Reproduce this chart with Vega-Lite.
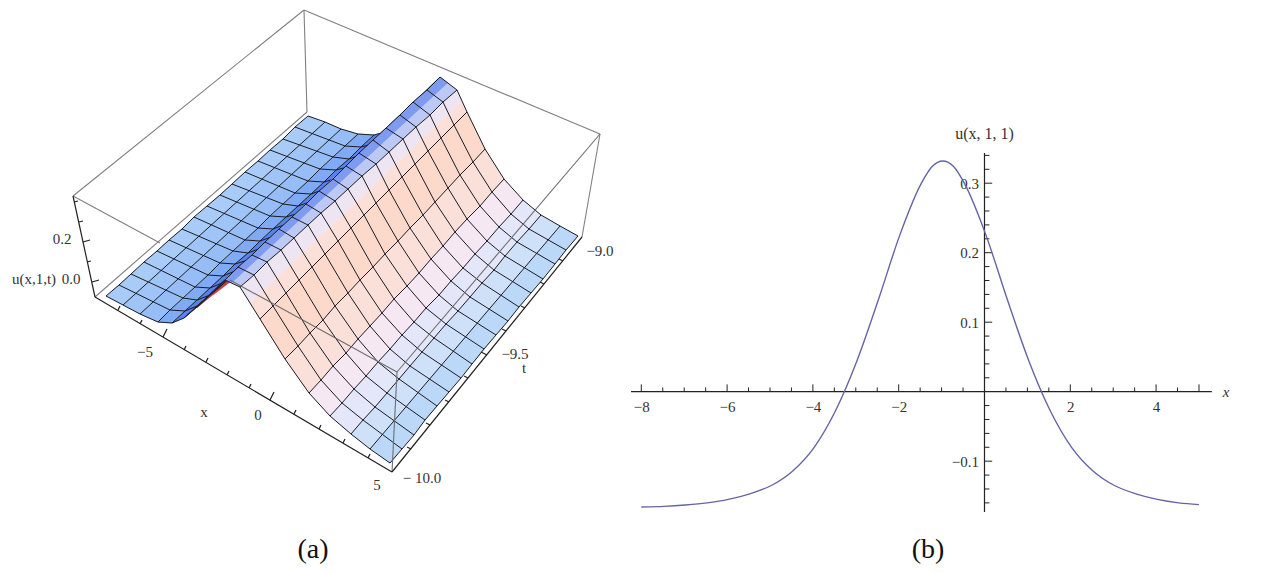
{"$schema":"https://vega.github.io/schema/vega-lite/v6.json","padding":0,"background":"white","config":{"view":{"stroke":null},"text":{"font":"Liberation Serif"}},"spacing":10,
"datasets":{
"strips":[
{"s":0,"o":1,"px":106,"py":296},{"s":0,"o":2,"px":123,"py":305},{"s":0,"o":3,"px":325,"py":122},{"s":0,"o":4,"px":308,"py":116},
{"s":1,"o":1,"px":123,"py":305},{"s":1,"o":2,"px":140,"py":314},{"s":1,"o":3,"px":341,"py":129},{"s":1,"o":4,"px":325,"py":122},
{"s":2,"o":1,"px":140,"py":314},{"s":2,"o":2,"px":158,"py":322},{"s":2,"o":3,"px":358,"py":134},{"s":2,"o":4,"px":341,"py":129},
{"s":3,"o":1,"px":158,"py":322},{"s":3,"o":2,"px":172,"py":323},{"s":3,"o":3,"px":374,"py":135},{"s":3,"o":4,"px":358,"py":134},
{"s":6,"o":1,"px":197,"py":307},{"s":6,"o":2,"px":225,"py":280},{"s":6,"o":3,"px":440,"py":77},{"s":6,"o":4,"px":404,"py":119},
{"s":4,"o":1,"px":172,"py":323},{"s":4,"o":2,"px":184,"py":318},{"s":4,"o":3,"px":389,"py":131},{"s":4,"o":4,"px":374,"py":135},
{"s":5,"o":1,"px":184,"py":318},{"s":5,"o":2,"px":197,"py":307},{"s":5,"o":3,"px":404,"py":119},{"s":5,"o":4,"px":389,"py":131},
{"s":7,"o":1,"px":197,"py":308},{"s":7,"o":2,"px":200,"py":303},{"s":7,"o":3,"px":227,"py":280},{"s":7,"o":4,"px":230,"py":282},{"s":7,"o":5,"px":213,"py":295}
],
"stripsR":[
{"s":8,"o":1,"px":225,"py":280},{"s":8,"o":2,"px":232,"py":283},{"s":8,"o":3,"px":448,"py":83},{"s":8,"o":4,"px":440,"py":77},
{"s":9,"o":1,"px":232,"py":283},{"s":9,"o":2,"px":240,"py":287},{"s":9,"o":3,"px":457,"py":90},{"s":9,"o":4,"px":448,"py":83},
{"s":10,"o":1,"px":240,"py":287},{"s":10,"o":2,"px":250,"py":303},{"s":10,"o":3,"px":462,"py":101},{"s":10,"o":4,"px":457,"py":90},
{"s":11,"o":1,"px":250,"py":303},{"s":11,"o":2,"px":260,"py":319},{"s":11,"o":3,"px":467,"py":112},{"s":11,"o":4,"px":462,"py":101},
{"s":12,"o":1,"px":260,"py":319},{"s":12,"o":2,"px":285,"py":359},{"s":12,"o":3,"px":485,"py":149},{"s":12,"o":4,"px":467,"py":112},
{"s":13,"o":1,"px":285,"py":359},{"s":13,"o":2,"px":309,"py":393},{"s":13,"o":3,"px":504,"py":179},{"s":13,"o":4,"px":485,"py":149},
{"s":14,"o":1,"px":309,"py":393},{"s":14,"o":2,"px":330,"py":416},{"s":14,"o":3,"px":523,"py":200},{"s":14,"o":4,"px":504,"py":179},
{"s":15,"o":1,"px":330,"py":416},{"s":15,"o":2,"px":351,"py":434},{"s":15,"o":3,"px":541,"py":215},{"s":15,"o":4,"px":523,"py":200},
{"s":16,"o":1,"px":351,"py":434},{"s":16,"o":2,"px":370,"py":449},{"s":16,"o":3,"px":560,"py":226},{"s":16,"o":4,"px":541,"py":215},
{"s":17,"o":1,"px":370,"py":449},{"s":17,"o":2,"px":390,"py":463},{"s":17,"o":3,"px":578,"py":236},{"s":17,"o":4,"px":560,"py":226}
],
"meshL":[
{"i":0,"j":0,"px":106,"py":296},{"i":0,"j":1,"px":119,"py":285},{"i":0,"j":2,"px":131,"py":274},{"i":0,"j":3,"px":144,"py":262},{"i":0,"j":4,"px":157,"py":251},{"i":0,"j":5,"px":169,"py":240},{"i":0,"j":6,"px":182,"py":229},{"i":0,"j":7,"px":194,"py":217},{"i":0,"j":8,"px":207,"py":206},{"i":0,"j":9,"px":220,"py":195},{"i":0,"j":10,"px":232,"py":184},{"i":0,"j":11,"px":245,"py":172},{"i":0,"j":12,"px":258,"py":161},{"i":0,"j":13,"px":270,"py":150},{"i":0,"j":14,"px":283,"py":139},{"i":0,"j":15,"px":295,"py":127},{"i":0,"j":16,"px":308,"py":116},
{"i":1,"j":0,"px":123,"py":305},{"i":1,"j":16,"px":325,"py":122},
{"i":2,"j":0,"px":140,"py":314},{"i":2,"j":16,"px":341,"py":129},
{"i":3,"j":0,"px":158,"py":322},{"i":3,"j":1,"px":170,"py":310},{"i":3,"j":2,"px":183,"py":298},{"i":3,"j":3,"px":195,"py":287},{"i":3,"j":4,"px":208,"py":275},{"i":3,"j":5,"px":220,"py":263},{"i":3,"j":6,"px":233,"py":251},{"i":3,"j":7,"px":245,"py":240},{"i":3,"j":8,"px":258,"py":228},{"i":3,"j":9,"px":270,"py":216},{"i":3,"j":10,"px":283,"py":204},{"i":3,"j":11,"px":295,"py":193},{"i":3,"j":12,"px":308,"py":181},{"i":3,"j":13,"px":320,"py":169},{"i":3,"j":14,"px":333,"py":157},{"i":3,"j":15,"px":345,"py":146},{"i":3,"j":16,"px":358,"py":134},
{"i":4,"j":0,"px":172,"py":323},{"i":4,"j":1,"px":185,"py":311},{"i":4,"j":2,"px":197,"py":300},{"i":4,"j":3,"px":210,"py":288},{"i":4,"j":4,"px":223,"py":276},{"i":4,"j":5,"px":235,"py":264},{"i":4,"j":6,"px":248,"py":253},{"i":4,"j":7,"px":260,"py":241},{"i":4,"j":8,"px":273,"py":229},{"i":4,"j":9,"px":286,"py":217},{"i":4,"j":10,"px":298,"py":206},{"i":4,"j":11,"px":311,"py":194},{"i":4,"j":12,"px":324,"py":182},{"i":4,"j":13,"px":336,"py":170},{"i":4,"j":14,"px":349,"py":159},{"i":4,"j":15,"px":361,"py":147},{"i":4,"j":16,"px":374,"py":135},
{"i":5,"j":0,"px":184,"py":318},{"i":5,"j":1,"px":197,"py":306},{"i":5,"j":2,"px":210,"py":295},{"i":5,"j":3,"px":222,"py":283},{"i":5,"j":4,"px":235,"py":271},{"i":5,"j":5,"px":248,"py":260},{"i":5,"j":6,"px":261,"py":248},{"i":5,"j":7,"px":274,"py":236},{"i":5,"j":8,"px":286,"py":224},{"i":5,"j":9,"px":299,"py":213},{"i":5,"j":10,"px":312,"py":201},{"i":5,"j":11,"px":325,"py":189},{"i":5,"j":12,"px":338,"py":178},{"i":5,"j":13,"px":351,"py":166},{"i":5,"j":14,"px":363,"py":154},{"i":5,"j":15,"px":376,"py":143},{"i":5,"j":16,"px":389,"py":131},
{"i":6,"j":0,"px":197,"py":307},{"i":6,"j":1,"px":210,"py":295},{"i":6,"j":2,"px":223,"py":284},{"i":6,"j":3,"px":236,"py":272},{"i":6,"j":4,"px":249,"py":260},{"i":6,"j":5,"px":262,"py":248},{"i":6,"j":6,"px":275,"py":237},{"i":6,"j":7,"px":288,"py":225},{"i":6,"j":8,"px":301,"py":213},{"i":6,"j":9,"px":313,"py":201},{"i":6,"j":10,"px":326,"py":190},{"i":6,"j":11,"px":339,"py":178},{"i":6,"j":12,"px":352,"py":166},{"i":6,"j":13,"px":365,"py":154},{"i":6,"j":14,"px":378,"py":143},{"i":6,"j":15,"px":391,"py":131},{"i":6,"j":16,"px":404,"py":119}
],
"meshR":[
{"i":8,"j":0,"px":225,"py":280},{"i":8,"j":1,"px":238,"py":267},{"i":8,"j":2,"px":252,"py":255},{"i":8,"j":3,"px":265,"py":242},{"i":8,"j":4,"px":279,"py":229},{"i":8,"j":5,"px":292,"py":217},{"i":8,"j":6,"px":306,"py":204},{"i":8,"j":7,"px":319,"py":191},{"i":8,"j":8,"px":333,"py":179},{"i":8,"j":9,"px":346,"py":166},{"i":8,"j":10,"px":359,"py":153},{"i":8,"j":11,"px":373,"py":140},{"i":8,"j":12,"px":386,"py":128},{"i":8,"j":13,"px":400,"py":115},{"i":8,"j":14,"px":413,"py":102},{"i":8,"j":15,"px":427,"py":90},{"i":8,"j":16,"px":440,"py":77},
{"i":9,"j":0,"px":240,"py":287},{"i":9,"j":1,"px":254,"py":275},{"i":9,"j":2,"px":267,"py":262},{"i":9,"j":3,"px":281,"py":250},{"i":9,"j":4,"px":294,"py":238},{"i":9,"j":5,"px":308,"py":225},{"i":9,"j":6,"px":321,"py":213},{"i":9,"j":7,"px":335,"py":201},{"i":9,"j":8,"px":348,"py":189},{"i":9,"j":9,"px":362,"py":176},{"i":9,"j":10,"px":376,"py":164},{"i":9,"j":11,"px":389,"py":152},{"i":9,"j":12,"px":403,"py":139},{"i":9,"j":13,"px":416,"py":127},{"i":9,"j":14,"px":430,"py":115},{"i":9,"j":15,"px":443,"py":102},{"i":9,"j":16,"px":457,"py":90},
{"i":10,"j":0,"px":260,"py":319},{"i":10,"j":1,"px":273,"py":306},{"i":10,"j":2,"px":286,"py":293},{"i":10,"j":3,"px":299,"py":280},{"i":10,"j":4,"px":312,"py":267},{"i":10,"j":5,"px":325,"py":254},{"i":10,"j":6,"px":338,"py":241},{"i":10,"j":7,"px":351,"py":228},{"i":10,"j":8,"px":364,"py":215},{"i":10,"j":9,"px":376,"py":203},{"i":10,"j":10,"px":389,"py":190},{"i":10,"j":11,"px":402,"py":177},{"i":10,"j":12,"px":415,"py":164},{"i":10,"j":13,"px":428,"py":151},{"i":10,"j":14,"px":441,"py":138},{"i":10,"j":15,"px":454,"py":125},{"i":10,"j":16,"px":467,"py":112},
{"i":11,"j":0,"px":285,"py":359},{"i":11,"j":1,"px":298,"py":346},{"i":11,"j":2,"px":310,"py":333},{"i":11,"j":3,"px":323,"py":320},{"i":11,"j":4,"px":335,"py":306},{"i":11,"j":5,"px":348,"py":293},{"i":11,"j":6,"px":360,"py":280},{"i":11,"j":7,"px":373,"py":267},{"i":11,"j":8,"px":385,"py":254},{"i":11,"j":9,"px":398,"py":241},{"i":11,"j":10,"px":410,"py":228},{"i":11,"j":11,"px":423,"py":215},{"i":11,"j":12,"px":435,"py":202},{"i":11,"j":13,"px":448,"py":188},{"i":11,"j":14,"px":460,"py":175},{"i":11,"j":15,"px":473,"py":162},{"i":11,"j":16,"px":485,"py":149},
{"i":12,"j":0,"px":309,"py":393},{"i":12,"j":1,"px":321,"py":380},{"i":12,"j":2,"px":333,"py":366},{"i":12,"j":3,"px":346,"py":353},{"i":12,"j":4,"px":358,"py":339},{"i":12,"j":5,"px":370,"py":326},{"i":12,"j":6,"px":382,"py":313},{"i":12,"j":7,"px":394,"py":299},{"i":12,"j":8,"px":407,"py":286},{"i":12,"j":9,"px":419,"py":273},{"i":12,"j":10,"px":431,"py":259},{"i":12,"j":11,"px":443,"py":246},{"i":12,"j":12,"px":455,"py":232},{"i":12,"j":13,"px":467,"py":219},{"i":12,"j":14,"px":480,"py":206},{"i":12,"j":15,"px":492,"py":192},{"i":12,"j":16,"px":504,"py":179},
{"i":13,"j":0,"px":330,"py":416},{"i":13,"j":1,"px":342,"py":403},{"i":13,"j":2,"px":354,"py":389},{"i":13,"j":3,"px":366,"py":376},{"i":13,"j":4,"px":378,"py":362},{"i":13,"j":5,"px":390,"py":349},{"i":13,"j":6,"px":402,"py":335},{"i":13,"j":7,"px":414,"py":322},{"i":13,"j":8,"px":426,"py":308},{"i":13,"j":9,"px":439,"py":295},{"i":13,"j":10,"px":451,"py":281},{"i":13,"j":11,"px":463,"py":268},{"i":13,"j":12,"px":475,"py":254},{"i":13,"j":13,"px":487,"py":241},{"i":13,"j":14,"px":499,"py":227},{"i":13,"j":15,"px":511,"py":214},{"i":13,"j":16,"px":523,"py":200},
{"i":14,"j":0,"px":351,"py":434},{"i":14,"j":1,"px":363,"py":420},{"i":14,"j":2,"px":375,"py":407},{"i":14,"j":3,"px":387,"py":393},{"i":14,"j":4,"px":399,"py":379},{"i":14,"j":5,"px":410,"py":366},{"i":14,"j":6,"px":422,"py":352},{"i":14,"j":7,"px":434,"py":338},{"i":14,"j":8,"px":446,"py":324},{"i":14,"j":9,"px":458,"py":311},{"i":14,"j":10,"px":470,"py":297},{"i":14,"j":11,"px":482,"py":283},{"i":14,"j":12,"px":494,"py":270},{"i":14,"j":13,"px":505,"py":256},{"i":14,"j":14,"px":517,"py":242},{"i":14,"j":15,"px":529,"py":229},{"i":14,"j":16,"px":541,"py":215},
{"i":15,"j":0,"px":370,"py":449},{"i":15,"j":16,"px":560,"py":226},
{"i":16,"j":0,"px":390,"py":463},{"i":16,"j":1,"px":402,"py":449},{"i":16,"j":2,"px":414,"py":435},{"i":16,"j":3,"px":425,"py":420},{"i":16,"j":4,"px":437,"py":406},{"i":16,"j":5,"px":449,"py":392},{"i":16,"j":6,"px":461,"py":378},{"i":16,"j":7,"px":472,"py":364},{"i":16,"j":8,"px":484,"py":349},{"i":16,"j":9,"px":496,"py":335},{"i":16,"j":10,"px":508,"py":321},{"i":16,"j":11,"px":519,"py":307},{"i":16,"j":12,"px":531,"py":293},{"i":16,"j":13,"px":543,"py":279},{"i":16,"j":14,"px":555,"py":264},{"i":16,"j":15,"px":566,"py":250},{"i":16,"j":16,"px":578,"py":236}
],
"curve":[{"x":-8,"u":-0.166},{"x":-7.47,"u":-0.165},{"x":-6.97,"u":-0.163},{"x":-6.47,"u":-0.16},{"x":-5.97,"u":-0.155},{"x":-5.47,"u":-0.147},{"x":-4.97,"u":-0.135},{"x":-4.47,"u":-0.114},{"x":-3.97,"u":-0.08},{"x":-3.47,"u":-0.027},{"x":-2.97,"u":0.045},{"x":-2.47,"u":0.133},{"x":-1.97,"u":0.226},{"x":-1.47,"u":0.3},{"x":-1.22,"u":0.324},{"x":-0.97,"u":0.332},{"x":-0.72,"u":0.324},{"x":-0.47,"u":0.3},{"x":0.03,"u":0.226},{"x":0.53,"u":0.133},{"x":1.03,"u":0.045},{"x":1.53,"u":-0.027},{"x":2.03,"u":-0.08},{"x":2.53,"u":-0.114},{"x":3.03,"u":-0.135},{"x":3.53,"u":-0.147},{"x":4.03,"u":-0.155},{"x":4.53,"u":-0.16},{"x":5,"u":-0.1625}]
},
"hconcat":[
{"width":620,"height":573,
"encoding":{"x":{"field":"px","type":"quantitative","axis":null,"scale":{"domain":[0,620],"nice":false,"zero":false}},"y":{"field":"py","type":"quantitative","axis":null,"scale":{"domain":[573,0],"nice":false,"zero":false}}},
"layer":[
{"data":{"values":[{"e":1,"o":1,"px":73,"py":196},{"e":1,"o":2,"px":304,"py":10},{"e":2,"o":1,"px":304,"py":10},{"e":2,"o":2,"px":600,"py":134},{"e":3,"o":1,"px":304,"py":10},{"e":3,"o":2,"px":307,"py":112},{"e":4,"o":1,"px":600,"py":134},{"e":4,"o":2,"px":582,"py":237},{"e":5,"o":1,"px":73,"py":196},{"e":5,"o":2,"px":160,"py":243},{"e":6,"o":1,"px":95,"py":297},{"e":6,"o":2,"px":307,"py":112}]},
"mark":{"type":"line","stroke":"#808080","strokeWidth":1.1},"encoding":{"detail":{"field":"e"},"order":{"field":"o","type":"quantitative"}}},
{"data":{"name":"strips"},"mark":{"type":"line","strokeWidth":0.6},"encoding":{"order":{"field":"o","type":"quantitative"},
"fill":{"field":"s","type":"nominal","legend":null,"scale":{"domain":[0,1,2,3,4,5,6,7,8,9,10,11,12,13,14,15,16,17],"range":["#a8cbf8","#9fc5f8","#96bdf6","#80aaf3","#5683ea","#3f66e2","#3358d8","#c23c4e","#7f9bef","#bcc9f5","#eee5f3","#fae0d8","#fcd9ca","#fbe0da","#f6e8f2","#e4e6f9","#cfe0f9","#bcd8f9"]}},
"stroke":{"field":"s","type":"nominal","legend":null,"scale":{"domain":[0,1,2,3,4,5,6,7,8,9,10,11,12,13,14,15,16,17],"range":["#a8cbf8","#9fc5f8","#96bdf6","#80aaf3","#5683ea","#3f66e2","#3358d8","#c23c4e","#7f9bef","#bcc9f5","#eee5f3","#fae0d8","#fcd9ca","#fbe0da","#f6e8f2","#e4e6f9","#cfe0f9","#bcd8f9"]}}}},
{"data":{"name":"meshL"},"mark":{"type":"line","stroke":"#1c1c24","strokeWidth":1},"encoding":{"detail":{"field":"j"},"order":{"field":"i","type":"quantitative"}}},
{"data":{"name":"meshL"},"mark":{"type":"line","stroke":"#1c1c24","strokeWidth":1},"encoding":{"detail":{"field":"i"},"order":{"field":"j","type":"quantitative"}}},
{"data":{"name":"stripsR"},"mark":{"type":"line","strokeWidth":0.6},"encoding":{"order":{"field":"o","type":"quantitative"},
"fill":{"field":"s","type":"nominal","legend":null,"scale":{"domain":[0,1,2,3,4,5,6,7,8,9,10,11,12,13,14,15,16,17],"range":["#a8cbf8","#9fc5f8","#96bdf6","#80aaf3","#5683ea","#3f66e2","#3358d8","#c23c4e","#7f9bef","#bcc9f5","#eee5f3","#fae0d8","#fcd9ca","#fbe0da","#f6e8f2","#e4e6f9","#cfe0f9","#bcd8f9"]}},
"stroke":{"field":"s","type":"nominal","legend":null,"scale":{"domain":[0,1,2,3,4,5,6,7,8,9,10,11,12,13,14,15,16,17],"range":["#a8cbf8","#9fc5f8","#96bdf6","#80aaf3","#5683ea","#3f66e2","#3358d8","#c23c4e","#7f9bef","#bcc9f5","#eee5f3","#fae0d8","#fcd9ca","#fbe0da","#f6e8f2","#e4e6f9","#cfe0f9","#bcd8f9"]}}}},
{"data":{"name":"meshR"},"mark":{"type":"line","stroke":"#1c1c24","strokeWidth":1},"encoding":{"detail":{"field":"j"},"order":{"field":"i","type":"quantitative"}}},
{"data":{"name":"meshR"},"mark":{"type":"line","stroke":"#1c1c24","strokeWidth":1},"encoding":{"detail":{"field":"i"},"order":{"field":"j","type":"quantitative"}}},
{"data":{"values":[{"e":1,"o":1,"px":230,"py":280},{"e":1,"o":2,"px":397,"py":372},{"e":2,"o":1,"px":600,"py":134},{"e":2,"o":2,"px":397,"py":372},{"e":3,"o":1,"px":397,"py":372},{"e":3,"o":2,"px":392,"py":472}]},
"mark":{"type":"line","stroke":"#6e6e6e","strokeWidth":1.1},"encoding":{"detail":{"field":"e"},"order":{"field":"o","type":"quantitative"}}},
{"data":{"values":[{"e":1,"o":1,"px":73,"py":196},{"e":1,"o":2,"px":95,"py":297},{"e":2,"o":1,"px":95,"py":297},{"e":2,"o":2,"px":392,"py":472},{"e":3,"o":1,"px":392,"py":472},{"e":3,"o":2,"px":582,"py":237},
{"e":4,"o":1,"px":74,"py":202},{"e":4,"o":2,"px":78,"py":201},{"e":5,"o":1,"px":79,"py":222},{"e":5,"o":2,"px":83,"py":221},{"e":6,"o":1,"px":83,"py":242},{"e":6,"o":2,"px":90,"py":240},{"e":7,"o":1,"px":87,"py":262},{"e":7,"o":2,"px":91,"py":261},{"e":8,"o":1,"px":92,"py":282},{"e":8,"o":2,"px":99,"py":280},
{"e":10,"o":1,"px":118,"py":310},{"e":10,"o":2,"px":120,"py":306},{"e":11,"o":1,"px":140,"py":324},{"e":11,"o":2,"px":142,"py":320},{"e":12,"o":1,"px":163,"py":337},{"e":12,"o":2,"px":167,"py":329},{"e":13,"o":1,"px":184,"py":350},{"e":13,"o":2,"px":186,"py":346},{"e":14,"o":1,"px":206,"py":362},{"e":14,"o":2,"px":208,"py":358},{"e":15,"o":1,"px":227,"py":375},{"e":15,"o":2,"px":229,"py":371},{"e":16,"o":1,"px":249,"py":388},{"e":16,"o":2,"px":251,"py":384},{"e":17,"o":1,"px":270,"py":400},{"e":17,"o":2,"px":274,"py":392},{"e":18,"o":1,"px":294,"py":414},{"e":18,"o":2,"px":296,"py":410},{"e":19,"o":1,"px":319,"py":429},{"e":19,"o":2,"px":321,"py":425},{"e":20,"o":1,"px":343,"py":443},{"e":20,"o":2,"px":345,"py":439},{"e":21,"o":1,"px":368,"py":458},{"e":21,"o":2,"px":370,"py":454},
{"e":30,"o":1,"px":411,"py":449},{"e":30,"o":2,"px":407,"py":447},{"e":31,"o":1,"px":430,"py":425},{"e":31,"o":2,"px":426,"py":423},{"e":32,"o":1,"px":449,"py":402},{"e":32,"o":2,"px":445,"py":400},{"e":33,"o":1,"px":468,"py":378},{"e":33,"o":2,"px":464,"py":376},{"e":34,"o":1,"px":487,"py":355},{"e":34,"o":2,"px":481,"py":352},{"e":35,"o":1,"px":506,"py":331},{"e":35,"o":2,"px":502,"py":329},{"e":36,"o":1,"px":525,"py":308},{"e":36,"o":2,"px":521,"py":306},{"e":37,"o":1,"px":544,"py":284},{"e":37,"o":2,"px":540,"py":282},{"e":38,"o":1,"px":563,"py":261},{"e":38,"o":2,"px":559,"py":259},
{"e":40,"o":1,"px":197,"py":307},{"e":40,"o":2,"px":225,"py":280}]},
"mark":{"type":"line","stroke":"#222222","strokeWidth":1.2},"encoding":{"detail":{"field":"e"},"order":{"field":"o","type":"quantitative"}}},
{"data":{"values":[{"px":62,"py":239,"t":"0.2"},{"px":71,"py":279,"t":"0.0"},{"px":34,"py":279,"t":"u(x,1,t)"},{"px":145,"py":352,"t":"−5"},{"px":258,"py":415,"t":"0"},{"px":377,"py":485,"t":"5"},{"px":204,"py":412,"t":"x"},{"px":600,"py":251,"t":"−9.0"},{"px":515,"py":354,"t":"−9.5"},{"px":524,"py":368,"t":"t"},{"px":422,"py":478,"t":"− 10.0"}]},
"mark":{"type":"text","fontSize":15,"color":"#333333","font":"Liberation Serif"},"encoding":{"text":{"field":"t"}}},
{"data":{"values":[{"px":313,"py":550,"t":"(a)"}]},"mark":{"type":"text","fontSize":28,"color":"#111111","font":"Liberation Serif"},"encoding":{"text":{"field":"t"}}}
]},
{"width":638,"height":573,
"layer":[
{"data":{"values":[{"a":-8.24,"b":5.3,"y":0}]},"mark":{"type":"rule","stroke":"#222222","strokeWidth":1.2},"encoding":{
"x":{"field":"a","type":"quantitative","scale":{"domain":[-8.24,6.632],"nice":false,"zero":false},"axis":{"title":null,"orient":"bottom","offset":-181.3,"values":[-8,-6,-4,-2,2,4],"ticks":false,"domain":false,"grid":false,"labelFont":"Liberation Serif","labelFontSize":15,"labelColor":"#333333","labelPadding":8,"format":"d"}},
"x2":{"field":"b"},
"y":{"field":"y","type":"quantitative","scale":{"domain":[-0.2609,0.5636],"nice":false,"zero":false},"axis":{"title":null,"orient":"left","offset":-353.5,"values":[-0.1,0.1,0.2,0.3],"ticks":false,"domain":false,"grid":false,"labelFont":"Liberation Serif","labelFontSize":15,"labelColor":"#333333","labelPadding":6,"format":".1f"}}}},
{"data":{"values":[{"a":-0.1732,"b":0.3435,"x":0}]},"mark":{"type":"rule","stroke":"#222222","strokeWidth":1.2},"encoding":{"y":{"field":"a","type":"quantitative"},"y2":{"field":"b"},"x":{"field":"x","type":"quantitative"}}},
{"data":{"values":[{"x":-8,"y":0,"y2":0.0105},{"x":-6,"y":0,"y2":0.0105},{"x":-4,"y":0,"y2":0.0105},{"x":-2,"y":0,"y2":0.0105},{"x":2,"y":0,"y2":0.0105},{"x":4,"y":0,"y2":0.0105},{"x":-7.5,"y":0,"y2":0.006},{"x":-7,"y":0,"y2":0.006},{"x":-6.5,"y":0,"y2":0.006},{"x":-5.5,"y":0,"y2":0.006},{"x":-5,"y":0,"y2":0.006},{"x":-4.5,"y":0,"y2":0.006},{"x":-3.5,"y":0,"y2":0.006},{"x":-3,"y":0,"y2":0.006},{"x":-2.5,"y":0,"y2":0.006},{"x":-1.5,"y":0,"y2":0.006},{"x":-1,"y":0,"y2":0.006},{"x":-0.5,"y":0,"y2":0.006},{"x":0.5,"y":0,"y2":0.006},{"x":1,"y":0,"y2":0.006},{"x":1.5,"y":0,"y2":0.006},{"x":2.5,"y":0,"y2":0.006},{"x":3,"y":0,"y2":0.006},{"x":3.5,"y":0,"y2":0.006},{"x":4.5,"y":0,"y2":0.006},{"x":5,"y":0,"y2":0.0105}]},"mark":{"type":"rule","stroke":"#222222","strokeWidth":1},"encoding":{"x":{"field":"x","type":"quantitative"},"y":{"field":"y","type":"quantitative"},"y2":{"field":"y2"}}},
{"data":{"values":[{"y":-0.16,"x":0,"x2":0.115},{"y":-0.14,"x":0,"x2":0.115},{"y":-0.12,"x":0,"x2":0.115},{"y":-0.1,"x":0,"x2":0.18},{"y":-0.08,"x":0,"x2":0.115},{"y":-0.06,"x":0,"x2":0.115},{"y":-0.04,"x":0,"x2":0.115},{"y":-0.02,"x":0,"x2":0.115},{"y":0.02,"x":0,"x2":0.115},{"y":0.04,"x":0,"x2":0.115},{"y":0.06,"x":0,"x2":0.115},{"y":0.08,"x":0,"x2":0.115},{"y":0.1,"x":0,"x2":0.18},{"y":0.12,"x":0,"x2":0.115},{"y":0.14,"x":0,"x2":0.115},{"y":0.16,"x":0,"x2":0.115},{"y":0.18,"x":0,"x2":0.115},{"y":0.2,"x":0,"x2":0.18},{"y":0.22,"x":0,"x2":0.115},{"y":0.24,"x":0,"x2":0.115},{"y":0.26,"x":0,"x2":0.115},{"y":0.28,"x":0,"x2":0.115},{"y":0.3,"x":0,"x2":0.18},{"y":0.32,"x":0,"x2":0.115},{"y":0.34,"x":0,"x2":0.115}]},"mark":{"type":"rule","stroke":"#222222","strokeWidth":1},"encoding":{"y":{"field":"y","type":"quantitative"},"x":{"field":"x","type":"quantitative"},"x2":{"field":"x2"}}},
{"data":{"name":"curve"},"mark":{"type":"line","stroke":"#6565a5","strokeWidth":1.4,"interpolate":"monotone"},"encoding":{"x":{"field":"x","type":"quantitative"},"y":{"field":"u","type":"quantitative"}}},
{"data":{"values":[{"x":0,"y":0.3708,"t":"u(x, 1, 1)"}]},"mark":{"type":"text","fontSize":16,"color":"#333333","font":"Liberation Serif"},"encoding":{"x":{"field":"x","type":"quantitative"},"y":{"field":"y","type":"quantitative"},"text":{"field":"t"}}},
{"data":{"values":[{"x":5.63,"y":0,"t":"x"}]},"mark":{"type":"text","fontSize":15,"color":"#333333","font":"Liberation Serif","fontStyle":"italic"},"encoding":{"x":{"field":"x","type":"quantitative"},"y":{"field":"y","type":"quantitative"},"text":{"field":"t"}}},
{"data":{"values":[{"x":-1.317,"y":-0.2278,"t":"(b)"}]},"mark":{"type":"text","fontSize":28,"color":"#111111","font":"Liberation Serif"},"encoding":{"x":{"field":"x","type":"quantitative"},"y":{"field":"y","type":"quantitative"},"text":{"field":"t"}}}
]}
]}
